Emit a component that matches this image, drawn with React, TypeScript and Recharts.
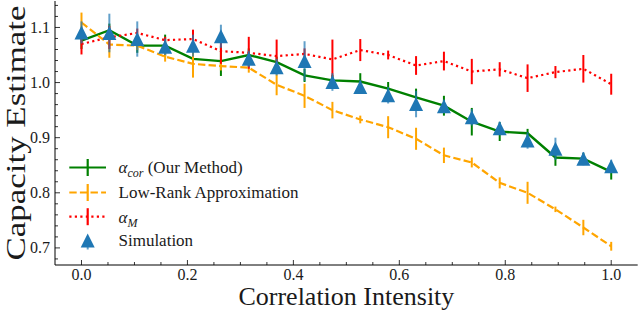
import React from 'react';
import { ComposedChart, Line, Scatter, XAxis, YAxis, ErrorBar, Legend } from 'recharts';

const intensity = [0.0, 0.0526, 0.1053, 0.1579, 0.2105, 0.2632, 0.3158, 0.3684, 0.4211, 0.4737, 0.5263, 0.5789, 0.6316, 0.6842, 0.7368, 0.7895, 0.8421, 0.8947, 0.9474, 1.0];

const alphaCor = [1.076, 1.095, 1.067, 1.067, 1.043, 1.039, 1.050, 1.037, 1.013, 1.004, 1.002, 0.989, 0.973, 0.958, 0.929, 0.911, 0.908, 0.864, 0.862, 0.838];
const alphaCorErr = [0.015, 0.012, 0.013, 0.02, 0.012, 0.027, 0.012, 0.01, 0.012, 0.01, 0.015, 0.012, 0.016, 0.018, 0.025, 0.017, 0.008, 0.015, 0.01, 0.014];

const lowRank = [1.109, 1.069, 1.067, 1.047, 1.034, 1.030, 1.027, 0.996, 0.976, 0.950, 0.933, 0.919, 0.898, 0.868, 0.855, 0.818, 0.800, 0.770, 0.737, 0.703];
const lowRankErr = [0.018, 0.024, 0.008, 0.009, 0.025, 0.008, 0.009, 0.019, 0.022, 0.015, 0.007, 0.02, 0.02, 0.014, 0.009, 0.01, 0.02, 0.005, 0.014, 0.008];

const alphaM = [1.070, 1.082, 1.090, 1.077, 1.079, 1.057, 1.054, 1.048, 1.052, 1.042, 1.059, 1.050, 1.031, 1.039, 1.020, 1.024, 1.008, 1.019, 1.025, 0.997];
const alphaMErr = [0.019, 0.021, 0.008, 0.006, 0.017, 0.023, 0.029, 0.03, 0.01, 0.036, 0.02, 0.008, 0.017, 0.017, 0.023, 0.013, 0.025, 0.011, 0.025, 0.019];

const simulation = [1.091, 1.090, 1.079, 1.065, 1.067, 1.084, 1.043, 1.028, 1.039, 1.001, 0.992, 0.977, 0.961, 0.957, 0.937, 0.917, 0.895, 0.880, 0.862, 0.848];
const simulationErr = [0.02, 0.035, 0.032, 0.015, 0.02, 0.021, 0.015, 0.015, 0.036, 0.016, 0.012, 0.015, 0.024, 0.012, 0.015, 0.012, 0.015, 0.02, 0.012, 0.012];

const xMajorTicks = [0.0, 0.2, 0.4, 0.6, 0.8, 1.0];
const xAllTicks = [0.0, 0.05, 0.1, 0.15, 0.2, 0.25, 0.3, 0.35, 0.4, 0.45, 0.5, 0.55, 0.6, 0.65, 0.7, 0.75, 0.8, 0.85, 0.9, 0.95, 1.0];
const yMajorTicks = [0.7, 0.8, 0.9, 1.0, 1.1];
const yAllTicks = [0.68, 0.7, 0.72, 0.74, 0.76, 0.78, 0.8, 0.82, 0.84, 0.86, 0.88, 0.9, 0.92, 0.94, 0.96, 0.98, 1.0, 1.02, 1.04, 1.06, 1.08, 1.1, 1.12, 1.14];

const data = intensity.map((x, i) => ({
  x,
  cor: alphaCor[i],
  corErr: alphaCorErr[i],
  low: lowRank[i],
  lowErr: lowRankErr[i],
  am: alphaM[i],
  amErr: alphaMErr[i],
  sim: simulation[i],
  simErr: simulationErr[i],
}));

const FONT = '"Liberation Serif", serif';
const TXT = '#1a1a1a';
const isMajor = (v: number, list: number[]) => list.some((m) => Math.abs(m - v) < 1e-6);

const BottomTick = (props: any) => {
  const { x, y, payload } = props;
  const v = payload.value;
  const major = isMajor(v, xMajorTicks);
  return (
    <g>
      <line x1={x} x2={x} y1={y} y2={y - (major ? 5 : 3)} stroke="#000" strokeWidth={0.8} />
      {major && (
        <text x={x} y={y + 14.5} textAnchor="middle" fontFamily={FONT} fontSize={16} fill={TXT}>
          {v.toFixed(1)}
        </text>
      )}
    </g>
  );
};

const TopTick = (props: any) => {
  const { x, y, payload } = props;
  const major = isMajor(payload.value, xMajorTicks);
  return <line x1={x} x2={x} y1={y} y2={y + (major ? 5 : 3)} stroke="#000" strokeWidth={0.8} />;
};

const LeftTick = (props: any) => {
  const { x, y, payload } = props;
  const v = payload.value;
  const major = isMajor(v, yMajorTicks);
  return (
    <g>
      <line x1={x} x2={x + (major ? 5 : 3)} y1={y} y2={y} stroke="#000" strokeWidth={0.8} />
      {major && (
        <text x={x - 5} y={y + 5.5} textAnchor="end" fontFamily={FONT} fontSize={16} fill={TXT}>
          {v.toFixed(1)}
        </text>
      )}
    </g>
  );
};

const RightTick = (props: any) => {
  const { x, y, payload } = props;
  const major = isMajor(payload.value, yMajorTicks);
  return <line x1={x} x2={x - (major ? 5 : 3)} y1={y} y2={y} stroke="#000" strokeWidth={0.8} />;
};

const TriangleShape = (props: any) => {
  const { cx, cy } = props;
  if (cx == null || cy == null) return <g />;
  const h = 7;
  return (
    <polygon
      points={`${cx},${cy - h} ${cx - h},${cy + h} ${cx + h},${cy + h}`}
      fill="#1f77b4"
    />
  );
};

const renderLegend = () => {
  const hx1 = 9.3;
  const hx2 = 46;
  const hc = 27.7;
  const tx = 58.5;
  const ys = [17.5, 42.5, 66.7, 90.5];
  return (
    <svg width={260} height={105} style={{ display: 'block', overflow: 'visible' }}>
      <line x1={hx1} x2={hx2} y1={ys[0]} y2={ys[0]} stroke="green" strokeWidth={2.2} />
      <line x1={hc} x2={hc} y1={ys[0] - 8.5} y2={ys[0] + 8.5} stroke="green" strokeWidth={2.2} />
      <text x={tx} y={ys[0] + 5.8} fontFamily={FONT} fontSize={17} fill={TXT}>
        <tspan fontStyle="italic">α</tspan>
        <tspan fontStyle="italic" fontSize={12} dy={4}>cor</tspan>
        <tspan dy={-4}> (Our Method)</tspan>
      </text>

      <line x1={hx1} x2={hx2} y1={ys[1]} y2={ys[1]} stroke="#FFA500" strokeWidth={2.2} strokeDasharray="7.4 3.2" />
      <line x1={hc} x2={hc} y1={ys[1] - 8.5} y2={ys[1] + 8.5} stroke="#FFA500" strokeWidth={2.2} />
      <text x={tx} y={ys[1] + 5.8} fontFamily={FONT} fontSize={17} fill={TXT}>Low-Rank Approximation</text>

      <line x1={hx1} x2={hx2} y1={ys[2]} y2={ys[2]} stroke="#FF0000" strokeWidth={2.2} strokeDasharray="2.2 3.3" />
      <line x1={hc} x2={hc} y1={ys[2] - 8.5} y2={ys[2] + 8.5} stroke="#FF0000" strokeWidth={2.2} />
      <text x={tx} y={ys[2] + 5.8} fontFamily={FONT} fontSize={17} fill={TXT}>
        <tspan fontStyle="italic">α</tspan>
        <tspan fontStyle="italic" fontSize={12} dy={4}>M</tspan>
      </text>

      <line x1={hc} x2={hc} y1={ys[3] - 4} y2={ys[3] + 9} stroke="#1f77b4" strokeWidth={2} strokeOpacity={0.7} />
      <polygon points={`${hc},${ys[3] - 7} ${hc - 7},${ys[3] + 7} ${hc + 7},${ys[3] + 7}`} fill="#1f77b4" />
      <text x={tx} y={ys[3] + 5.8} fontFamily={FONT} fontSize={17} fill={TXT}>Simulation</text>
    </svg>
  );
};

const XLabel = (props: any) => (
  <text x={346.4} y={304.5} textAnchor="middle" fontFamily={FONT} fontSize={26} fill={TXT}>
    Correlation Intensity
  </text>
);

const YLabel = (props: any) => (
  <text
    x={25}
    y={133}
    transform="rotate(-90, 25, 133)"
    textAnchor="middle"
    fontFamily={FONT}
    fontSize={28}
    fill={TXT}
    textLength={255}
    lengthAdjust="spacingAndGlyphs"
  >
    Capacity Estimate
  </text>
);

export default function App() {
  return (
    <div style={{ position: 'absolute', left: 0, top: 0, width: 640, height: 310, background: '#fff' }}>
      <ComposedChart width={640} height={310} data={data} margin={{ top: 1, right: 2.3, bottom: 0, left: 0 }}>
        <XAxis
          xAxisId="b"
          dataKey="x"
          type="number"
          domain={[-0.05, 1.05]}
          ticks={xAllTicks}
          interval={0}
          orientation="bottom"
          height={45}
          tickSize={0}
          tickMargin={0}
          tickLine={false}
          tick={<BottomTick />}
          axisLine={{ stroke: '#000', strokeWidth: 1 }}
          allowDataOverflow
          label={<XLabel />}
        />
        <XAxis
          xAxisId="t"
          dataKey="x"
          type="number"
          domain={[-0.05, 1.05]}
          ticks={xAllTicks}
          interval={0}
          orientation="top"
          height={0}
          tickSize={0}
          tickMargin={0}
          tickLine={false}
          tick={<TopTick />}
          axisLine={{ stroke: '#000', strokeWidth: 1 }}
          allowDataOverflow
        />
        <YAxis
          yAxisId="l"
          type="number"
          domain={[0.669, 1.148]}
          ticks={yAllTicks}
          interval={0}
          orientation="left"
          width={55}
          tickSize={0}
          tickMargin={0}
          tickLine={false}
          tick={<LeftTick />}
          axisLine={{ stroke: '#000', strokeWidth: 1 }}
          allowDataOverflow
          label={<YLabel />}
        />
        <YAxis
          yAxisId="r"
          type="number"
          domain={[0.669, 1.148]}
          ticks={yAllTicks}
          interval={0}
          orientation="right"
          width={0}
          tickSize={0}
          tickMargin={0}
          tickLine={false}
          tick={<RightTick />}
          axisLine={{ stroke: '#000', strokeWidth: 1 }}
          allowDataOverflow
        />
        <Line xAxisId="b" yAxisId="l" dataKey="cor" type="linear" stroke="green" strokeWidth={2.4} dot={false} isAnimationActive={false}>
          <ErrorBar dataKey="corErr" direction="y" width={0} stroke="green" strokeWidth={2} isAnimationActive={false} />
        </Line>
        <Line xAxisId="b" yAxisId="l" dataKey="low" type="linear" stroke="#FFA500" strokeWidth={2.2} strokeDasharray="7.4 3.2" dot={false} isAnimationActive={false}>
          <ErrorBar dataKey="lowErr" direction="y" width={0} stroke="#FFA500" strokeWidth={2} isAnimationActive={false} />
        </Line>
        <Line xAxisId="b" yAxisId="l" dataKey="am" type="linear" stroke="#FF0000" strokeWidth={2.2} strokeDasharray="2.2 3.3" dot={false} isAnimationActive={false}>
          <ErrorBar dataKey="amErr" direction="y" width={0} stroke="#FF0000" strokeWidth={2} isAnimationActive={false} />
        </Line>
        <Scatter xAxisId="b" yAxisId="l" dataKey="sim" shape={<TriangleShape />} isAnimationActive={false}>
          <ErrorBar dataKey="simErr" direction="y" width={0} stroke="#1f77b4" strokeWidth={2} strokeOpacity={0.7} isAnimationActive={false} />
        </Scatter>
        <Legend
          layout="vertical"
          align="center"
          verticalAlign="middle"
          content={renderLegend}
          wrapperStyle={{ position: 'absolute', left: 60, top: 150, width: 260, height: 105 }}
        />
      </ComposedChart>
    </div>
  );
}
